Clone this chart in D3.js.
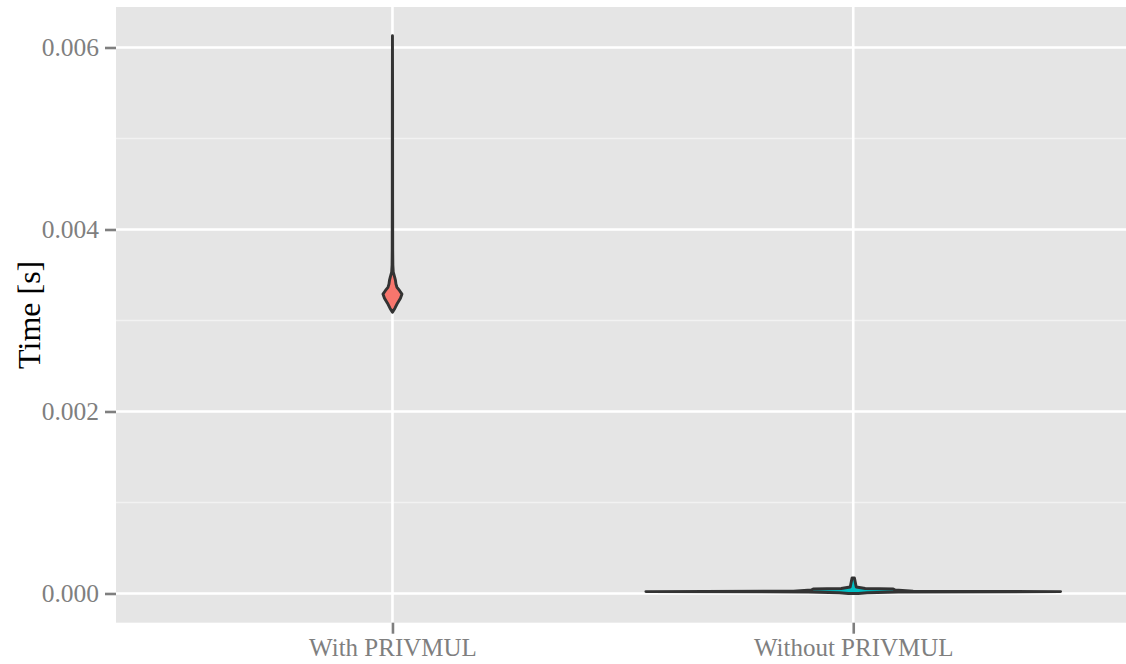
<!DOCTYPE html>
<html>
<head>
<meta charset="utf-8">
<script src="https://cdn.jsdelivr.net/npm/d3@7"></script>
<style>
  html, body { margin: 0; padding: 0; background: #ffffff; }
  svg { display: block; }
</style>
</head>
<body>
<svg id="chart" width="1126" height="664"></svg>
<script>
// Categories and fill colours
const categories = ["With PRIVMUL", "Without PRIVMUL"];
const fills = ["#F8766D", "#00BFC4"];

// Y axis ticks
const majorTicks = [0, 0.002, 0.004, 0.006];
const minorTicks = [0.001, 0.003, 0.005];
const tickLabels = ["0.000", "0.002", "0.004", "0.006"];

// Violin profiles: time values (s) and relative kernel density at each value
const withTimes = [0.00309, 0.003135, 0.00319, 0.003245, 0.00329, 0.00333, 0.003365, 0.0034,
                   0.00344, 0.003485, 0.00353, 0.00361, 0.00377, 0.00432, 0.00542, 0.00613];
const withDensity = [0.0, 0.012, 0.024, 0.0385, 0.0458, 0.0337, 0.0217, 0.0169,
                     0.0145, 0.0096, 0.0039, 0.0019, 0.0012, 0.0008, 0.0006, 0.0];

const withoutTimes = [0.0, 0.0000077, 0.0000165, 0.0000209, 0.0000253, 0.0000385,
                      0.0000495, 0.000055, 0.0000714, 0.00017];
const withoutDensity = [0.024, 0.067, 0.217, 1.0, 0.289, 0.202, 0.193, 0.058, 0.0145, 0.0058];

const violins = [
  { cat: categories[0], fill: fills[0], pts: withTimes.map((v, i) => ({ v, d: withDensity[i] })) },
  { cat: categories[1], fill: fills[1], pts: withoutTimes.map((v, i) => ({ v, d: withoutDensity[i] })) }
];

const svg = d3.select("#chart");
const panel = { left: 116, right: 1129.7, top: 7, bottom: 622.7 };

const x = d3.scalePoint()
  .domain(categories)
  .range([panel.left, panel.right])
  .padding(0.6);

const y = d3.scaleLinear()
  .domain([-0.000321, 0.006445])
  .range([panel.bottom, panel.top]);

// Half-width of a violin at a given density
const maxDensity = d3.max(violins, vl => d3.max(vl.pts, p => p.d));
const halfWidth = d3.scaleLinear()
  .domain([0, maxDensity])
  .range([0, x.step() * 0.45]);

// Panel background
svg.append("rect")
  .attr("x", panel.left).attr("y", panel.top)
  .attr("width", panel.right - panel.left)
  .attr("height", panel.bottom - panel.top)
  .attr("fill", "#E5E5E5");

// Minor grid lines
svg.append("g").selectAll("line").data(minorTicks).join("line")
  .attr("x1", panel.left).attr("x2", panel.right)
  .attr("y1", d => y(d)).attr("y2", d => y(d))
  .attr("stroke", "#F2F2F2").attr("stroke-width", 1.3);

// Major grid lines
svg.append("g").selectAll("line").data(majorTicks).join("line")
  .attr("x1", panel.left).attr("x2", panel.right)
  .attr("y1", d => y(d)).attr("y2", d => y(d))
  .attr("stroke", "#FFFFFF").attr("stroke-width", 2.6);

svg.append("g").selectAll("line").data(categories).join("line")
  .attr("x1", d => x(d)).attr("x2", d => x(d))
  .attr("y1", panel.top).attr("y2", panel.bottom)
  .attr("stroke", "#FFFFFF").attr("stroke-width", 2.6);

// Violins
const area = d3.area()
  .y(p => y(p.v))
  .curve(d3.curveLinear);

svg.append("g").selectAll("path").data(violins).join("path")
  .attr("d", vl => area
      .x0(p => x(vl.cat) - halfWidth(p.d))
      .x1(p => x(vl.cat) + halfWidth(p.d))(vl.pts))
  .attr("fill", vl => vl.fill)
  .attr("stroke", "#333333")
  .attr("stroke-width", 2.9)
  .attr("stroke-linejoin", "round");

// Y axis
const yAxis = d3.axisLeft(y)
  .tickValues(majorTicks)
  .tickFormat((d, i) => tickLabels[i])
  .tickSize(11)
  .tickPadding(6);

const gy = svg.append("g")
  .attr("transform", `translate(${panel.left},0)`)
  .call(yAxis);
gy.select(".domain").remove();
gy.selectAll(".tick line").attr("stroke", "#7F7F7F").attr("stroke-width", 2.6);
gy.selectAll(".tick text")
  .attr("fill", "#7F7F7F")
  .style("font-family", "'Liberation Serif', 'Times New Roman', serif")
  .style("font-size", "25.5px");

// X axis
const xAxis = d3.axisBottom(x).tickSize(11).tickPadding(5);
const gx = svg.append("g")
  .attr("transform", `translate(0,${panel.bottom})`)
  .call(xAxis);
gx.select(".domain").remove();
gx.selectAll(".tick line").attr("stroke", "#7F7F7F").attr("stroke-width", 2.6);
gx.selectAll(".tick text")
  .attr("fill", "#7F7F7F")
  .style("font-family", "'Liberation Serif', 'Times New Roman', serif")
  .style("font-size", "25px");

// Axis title
svg.append("text")
  .attr("transform", `translate(40,${(panel.top + panel.bottom) / 2}) rotate(-90)`)
  .attr("text-anchor", "middle")
  .attr("fill", "#000000")
  .style("font-family", "'Liberation Serif', 'Times New Roman', serif")
  .style("font-size", "32px")
  .text("Time [s]");
</script>
</body>
</html>
